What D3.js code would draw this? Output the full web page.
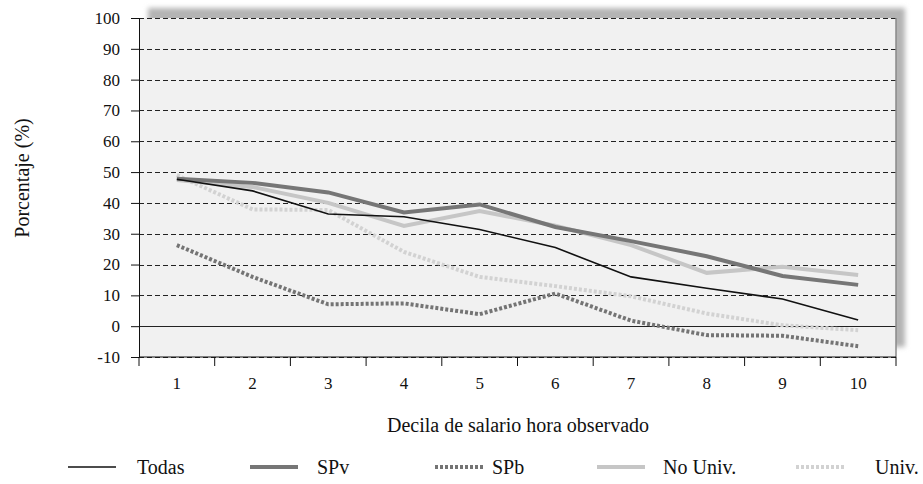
<!DOCTYPE html>
<html>
<head>
<meta charset="utf-8">
<script src="https://cdn.jsdelivr.net/npm/d3@7"></script>
<style>
  body { margin: 0; background: #fff; }
</style>
</head>
<body>
<svg id="chart" width="923" height="484"></svg>
<script>
// deciles on the x axis
const deciles = ["1", "2", "3", "4", "5", "6", "7", "8", "9", "10"];
const yTicks = [-10, 0, 10, 20, 30, 40, 50, 60, 70, 80, 90, 100];

// series values (percent)
const todas  = [47.7, 43.9, 36.4, 35.5, 31.4, 25.5, 16.0, 12.3, 8.8, 2.0];
const spv    = [47.8, 46.5, 43.4, 36.9, 39.5, 32.2, 27.6, 22.7, 16.3, 13.4];
const spb    = [26.3, 16.0, 7.1, 7.4, 3.9, 10.6, 1.8, -2.9, -3.1, -6.5];
const noUniv = [47.4, 45.2, 40.0, 32.5, 37.4, 32.6, 26.3, 17.3, 19.3, 16.6];
const univ   = [49.0, 37.9, 37.7, 24.1, 16.0, 13.0, 9.7, 4.1, 0.3, -1.3];

const FONT = '"Liberation Serif", "Times New Roman", serif';

const series = [
  { name: "Univ.",    values: univ,   color: "#d2d2d2", width: 4,   dash: "3,2" },
  { name: "SPb",      values: spb,    color: "#747474", width: 4,   dash: "3,2" },
  { name: "No Univ.", values: noUniv, color: "#c6c6c6", width: 4,   dash: null },
  { name: "SPv",      values: spv,    color: "#767676", width: 4,   dash: null },
  { name: "Todas",    values: todas,  color: "#111111", width: 1.6, dash: null }
];
const legendOrder = ["Todas", "SPv", "SPb", "No Univ.", "Univ."];

const svg = d3.select("#chart").attr("font-family", FONT);
const x0 = 139, x1 = 896, y0 = 18, y1 = 357;

const x = d3.scaleBand().domain(deciles).range([x0, x1]);
const y = d3.scaleLinear().domain([-10, 100]).range([y1, y0]);

// shadow behind the plot area
const defs = svg.append("defs");
defs.append("filter").attr("id", "blur")
  .attr("x", "-5%").attr("y", "-5%").attr("width", "110%").attr("height", "110%")
  .append("feGaussianBlur").attr("stdDeviation", 2.5);

svg.append("rect")
  .attr("x", x0 + 9).attr("y", y0 - 10)
  .attr("width", x1 - x0).attr("height", y1 - y0)
  .attr("fill", "#b4b4b4")
  .attr("filter", "url(#blur)");

svg.append("rect")
  .attr("x", x0).attr("y", y0)
  .attr("width", x1 - x0).attr("height", y1 - y0)
  .attr("fill", "#f1f1f1");

// gridlines
svg.append("g").selectAll("line")
  .data(yTicks)
  .join("line")
    .attr("x1", x0).attr("x2", x1)
    .attr("y1", d => Math.round(y(d)) + 0.5).attr("y2", d => Math.round(y(d)) + 0.5)
    .attr("stroke", "#222")
    .attr("stroke-width", 1)
    .attr("stroke-dasharray", d => d === 0 ? null : "5,3");

// right border
svg.append("line")
  .attr("x1", x1).attr("x2", x1).attr("y1", y0).attr("y2", y1)
  .attr("stroke", "#888").attr("stroke-width", 1.5);

// y axis (hyphen for the minus, as in the original)
const yAxis = svg.append("g")
  .attr("transform", `translate(${x0},0)`)
  .call(d3.axisLeft(y).tickValues(yTicks).tickSize(8).tickPadding(11)
    .tickFormat(d => String(d)));
yAxis.attr("font-family", FONT).attr("font-size", 17);
yAxis.select(".domain").attr("stroke", "#111");
yAxis.selectAll(".tick line").attr("stroke", "#111");
yAxis.selectAll("text").attr("fill", "#111");

// x axis: ticks at band edges, labels at band centres
const xg = svg.append("g").attr("transform", `translate(0,${y1})`);
xg.append("line").attr("x1", x0).attr("x2", x1).attr("stroke", "#111");
xg.selectAll(".xt")
  .data(deciles.concat(["end"]))
  .join("line")
    .attr("class", "xt")
    .attr("x1", d => d === "end" ? x1 : x(d))
    .attr("x2", d => d === "end" ? x1 : x(d))
    .attr("y1", 0).attr("y2", 9)
    .attr("stroke", "#111");
xg.selectAll("text")
  .data(deciles)
  .join("text")
    .attr("x", d => x(d) + x.bandwidth() / 2)
    .attr("y", 32)
    .attr("text-anchor", "middle")
    .attr("fill", "#111")
    .attr("font-size", 17)
    .text(d => d);

// lines
const line = d3.line()
  .x((d, i) => x(deciles[i]) + x.bandwidth() / 2)
  .y(d => y(d));

svg.append("g").selectAll("path")
  .data(series)
  .join("path")
    .attr("d", d => line(d.values))
    .attr("fill", "none")
    .attr("stroke", d => d.color)
    .attr("stroke-width", d => d.width)
    .attr("stroke-dasharray", d => d.dash);

// axis titles
svg.append("text")
  .attr("transform", "translate(29,178) rotate(-90)")
  .attr("text-anchor", "middle")
  .attr("fill", "#111")
  .attr("font-size", 20)
  .text("Porcentaje (%)");

svg.append("text")
  .attr("x", 518).attr("y", 432)
  .attr("text-anchor", "middle")
  .attr("fill", "#111")
  .attr("font-size", 20)
  .text("Decila de salario hora observado");

// legend
const legendX = [68, 250, 435, 597, 796];
const textOffset = { "Todas": 69, "SPv": 67, "SPb": 57, "No Univ.": 66, "Univ.": 79 };
const lg = svg.append("g").selectAll("g")
  .data(legendOrder.map(n => series.find(s => s.name === n)))
  .join("g")
    .attr("transform", (d, i) => `translate(${legendX[i]},467)`);
lg.append("line")
  .attr("x1", 0).attr("x2", 48)
  .attr("stroke", d => d.color)
  .attr("stroke-width", d => d.width)
  .attr("stroke-dasharray", d => d.dash);
lg.append("text")
  .attr("x", d => textOffset[d.name])
  .attr("y", 7)
  .attr("fill", "#111")
  .attr("font-size", 20)
  .text(d => d.name);
</script>
</body>
</html>
